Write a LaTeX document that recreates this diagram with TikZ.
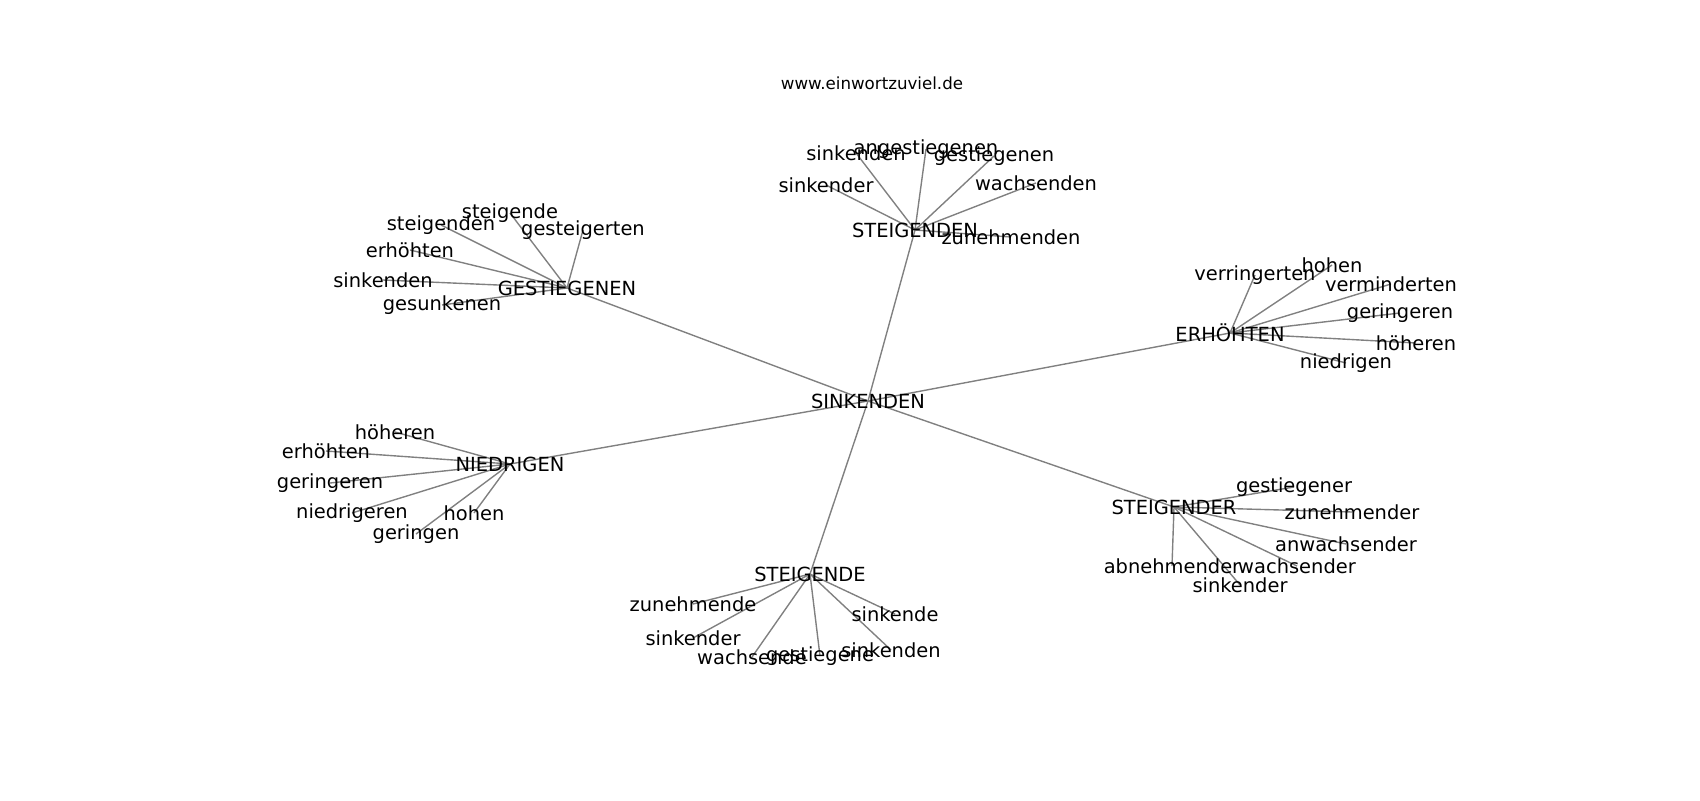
\documentclass[tikz,border=0pt]{standalone}
\usepackage{fontspec}
\setmainfont{DejaVu Sans}
\usetikzlibrary{backgrounds}

\begin{document}
\begin{tikzpicture}[x=0.72pt, y=-0.72pt]
  % Set the node styles
  \tikzset{word/.style={font=\fontsize{14}{16}\selectfont, inner sep=0pt},
           link/.style={draw=gray, line width=1pt}}
  \useasboundingbox (0,0) rectangle (1700,800);

  % Define the hub words and their leaves
  \def\hubs{a/915/230/STEIGENDEN, b/567/288/GESTIEGENEN, c/1230/333/ERHÖHTEN,
            d/510/464/NIEDRIGEN, e/1174/507/STEIGENDER, f/810/574/STEIGENDE}
  \def\leaves{a/1/856/153/sinkenden, a/2/926/149/angestiegenen, a/3/994/156/gestiegenen,
              a/4/826/185/sinkender, a/5/1036/183/wachsenden, a/6/1011/237/zunehmenden,
              b/1/510/213/steigende, b/2/441/225/steigenden, b/3/583/230/gesteigerten,
              b/4/410/250/erhöhten, b/5/383/280/sinkenden, b/6/442/305/gesunkenen,
              c/1/1255/275/verringerten, c/2/1332/265/hohen, c/3/1391/284/verminderten,
              c/4/1400/313/geringeren, c/5/1416/343/höheren, c/6/1346/363/niedrigen,
              d/1/395/432/höheren, d/2/326/451/erhöhten, d/3/330/483/geringeren,
              d/4/352/513/niedrigeren, d/5/474/513/hohen, d/6/416/534/geringen,
              e/1/1294/487/gestiegener, e/2/1352/512/zunehmender, e/3/1346/544/anwachsender,
              e/4/1297/566/wachsender, e/5/1172/566/abnehmender, e/6/1240/585/sinkender,
              f/1/693/604/zunehmende, f/2/693/638/sinkender, f/3/752/657/wachsende,
              f/4/820/656/gestiegene, f/5/895/614/sinkende, f/6/891/650/sinkenden}

  % Title
  \node[font=\fontsize{12}{14}\selectfont, inner sep=0pt] (title) at (872,83) {www.einwortzuviel.de};

  % Draw the word nodes
  \node[word] (center) at (868,401) {SINKENDEN};
  \foreach \h/\x/\y/\w in \hubs{
    \node[word] (\h) at (\x,\y) {\w};
  }
  \foreach \h/\i/\x/\y/\w in \leaves{
    \node[word] (\h\i) at (\x,\y) {\w};
  }

  % Connect the words
  \begin{scope}[on background layer]
    \foreach \h/\x/\y/\w in \hubs{
      \draw[link] (center.center) -- (\h.center);
    }
    \foreach \h/\i/\x/\y/\w in \leaves{
      \draw[link] (\h.center) -- (\h\i.center);
    }
  \end{scope}
\end{tikzpicture}
\end{document}
